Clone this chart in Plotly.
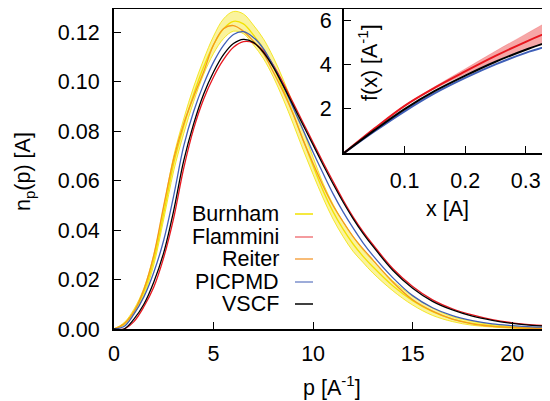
import plotly.graph_objects as go

# ---------------- data ----------------
p = [0, 0.5, 1, 1.5, 2, 2.5, 3, 3.5, 4, 4.5, 5, 5.5, 6, 6.5, 7, 7.5, 8, 8.5, 9, 9.5,
     10, 10.5, 11, 11.5, 12, 12.5, 13, 14, 15, 16, 17, 18, 19, 20, 21, 22]

burnham = [0, 0.002, 0.007, 0.015, 0.028, 0.047, 0.067, 0.082, 0.095, 0.106, 0.115, 0.1215,
           0.1245, 0.1235, 0.119, 0.1135, 0.106, 0.097, 0.087, 0.0765, 0.066, 0.056, 0.0475,
           0.0405, 0.0345, 0.0295, 0.0252, 0.0175, 0.0115, 0.0070, 0.0040, 0.0023, 0.0013,
           0.0007, 0.0004, 0.0002]
burnham_err = [0, 0.0005, 0.001, 0.0015, 0.002, 0.0025, 0.003, 0.003, 0.003, 0.003, 0.0035,
               0.004, 0.004, 0.004, 0.004, 0.004, 0.004, 0.004, 0.004, 0.004, 0.0035, 0.003,
               0.003, 0.003, 0.003, 0.0025, 0.0025, 0.002, 0.0018, 0.0015, 0.001, 0.0008,
               0.0005, 0.0004, 0.0002, 0.0001]
flammini = [0, 0.0, 0.003, 0.009, 0.017, 0.029, 0.045, 0.065, 0.081, 0.093, 0.102, 0.109,
            0.114, 0.1163, 0.1158, 0.1125, 0.1068, 0.0995, 0.0915, 0.0835, 0.0755, 0.0675,
            0.0598, 0.0523, 0.0455, 0.0395, 0.0342, 0.0245, 0.0172, 0.0118, 0.0082, 0.0057,
            0.0038, 0.0025, 0.0017, 0.0012]
reiter = [0, 0.002, 0.007, 0.016, 0.030, 0.050, 0.069, 0.083, 0.094, 0.104, 0.115, 0.1215,
          0.1228, 0.1205, 0.1165, 0.1115, 0.104, 0.096, 0.087, 0.0765, 0.067, 0.058, 0.050,
          0.0435, 0.0375, 0.0325, 0.028, 0.019, 0.0118, 0.0072, 0.0040, 0.0021, 0.0011,
          0.0006, 0.0003, 0.0002]
picpmd = [0, 0.001, 0.006, 0.013, 0.023, 0.036, 0.054, 0.074, 0.088, 0.099, 0.108, 0.1148,
          0.1192, 0.1203, 0.118, 0.1135, 0.1065, 0.0985, 0.0895, 0.0805, 0.0715, 0.063,
          0.0548, 0.0475, 0.041, 0.035, 0.0298, 0.0208, 0.0135, 0.0086, 0.0054, 0.0034,
          0.0021, 0.0014, 0.0009, 0.0006]
vscf = [0, 0.0, 0.004, 0.010, 0.019, 0.031, 0.048, 0.068, 0.083, 0.095, 0.104, 0.111,
        0.1155, 0.1172, 0.116, 0.112, 0.106, 0.0985, 0.0905, 0.0825, 0.0745, 0.0665, 0.0588,
        0.0515, 0.0448, 0.0388, 0.0335, 0.0238, 0.0165, 0.0112, 0.0077, 0.0052, 0.0035,
        0.0023, 0.0015, 0.0010]

# inset
x_in = [0, 0.05, 0.1, 0.15, 0.2, 0.25, 0.3, 0.34]
f_flammini = [0, 1.10, 2.13, 2.95, 3.68, 4.38, 5.02, 5.49]
f_flammini_err = [0, 0, 0.02, 0.05, 0.12, 0.22, 0.35, 0.5]
f_vscf = [0, 1.02, 1.98, 2.80, 3.49, 4.12, 4.66, 5.04]
f_picpmd = [0, 0.97, 1.88, 2.70, 3.39, 4.00, 4.52, 4.85]

main_xticks = [0, 5, 10, 15, 20]
main_yticks = [0.00, 0.02, 0.04, 0.06, 0.08, 0.10, 0.12]
inset_xticks = [0.1, 0.2, 0.3]
inset_yticks = [2, 4, 6]

names = ["Burnham", "Flammini", "Reiter", "PICPMD", "VSCF"]
colors = {"Burnham": "#f2e200", "Flammini": "#e8161e", "Reiter": "#f49a1c",
          "PICPMD": "#3f5fb8", "VSCF": "#000000"}
legend_colors = {"Burnham": "#f2e200", "Flammini": "#f07a7e", "Reiter": "#f6a64a",
                 "PICPMD": "#7c90cc", "VSCF": "#000000"}

# ---------------- layout geometry (page pixels; page body has an 8px margin) ----------------
OFF = 8
W, H = 550, 401
L, R, T, B = 114 - OFF, 550 - OFF, 9 - OFF, 329 - OFF


def px_x(px):
    return (px - OFF - L) / (R - L)


def px_y(py):
    return (B - (py - OFF)) / (B - T)


FONT = "Liberation Sans, Arial, Helvetica, sans-serif"
FS = 21.5

fig = go.Figure()

# Burnham band
up = [c + e for c, e in zip(burnham, burnham_err)]
lo = [c - e for c, e in zip(burnham, burnham_err)]
fig.add_trace(go.Scatter(x=p, y=up, mode="lines", line=dict(color="#f2e200", width=0.8, shape="spline"),
                         showlegend=False, hoverinfo="skip"))
fig.add_trace(go.Scatter(x=p, y=lo, mode="lines", line=dict(color="#f2e200", width=0.8, shape="spline"),
                         fill="tonexty", fillcolor="rgba(245,232,60,0.5)", showlegend=False,
                         hoverinfo="skip"))

series = {"Burnham": burnham, "Flammini": flammini, "Reiter": reiter,
          "PICPMD": picpmd, "VSCF": vscf}
for n in names:
    fig.add_trace(go.Scatter(x=p, y=series[n], mode="lines", name=n,
                             line=dict(color=colors[n], width=1.3, shape="spline"),
                             showlegend=False))

# inset traces
f_up = [a + e for a, e in zip(f_flammini, f_flammini_err)]
f_lo = [a - e for a, e in zip(f_flammini, f_flammini_err)]
fig.add_trace(go.Scatter(x=x_in, y=f_up, xaxis="x2", yaxis="y2", mode="lines",
                         line=dict(color="rgba(232,22,30,0.3)", width=0.5, shape="spline"),
                         showlegend=False, hoverinfo="skip"))
fig.add_trace(go.Scatter(x=x_in, y=f_lo, xaxis="x2", yaxis="y2", mode="lines",
                         line=dict(color="rgba(232,22,30,0.3)", width=0.5, shape="spline"),
                         fill="tonexty", fillcolor="rgba(235,60,60,0.45)",
                         showlegend=False, hoverinfo="skip"))
fig.add_trace(go.Scatter(x=x_in, y=f_picpmd, xaxis="x2", yaxis="y2", mode="lines",
                         line=dict(color=colors["PICPMD"], width=2, shape="spline"), showlegend=False))
fig.add_trace(go.Scatter(x=x_in, y=f_flammini, xaxis="x2", yaxis="y2", mode="lines",
                         line=dict(color=colors["Flammini"], width=2, shape="spline"), showlegend=False))
fig.add_trace(go.Scatter(x=x_in, y=f_vscf, xaxis="x2", yaxis="y2", mode="lines",
                         line=dict(color="#000000", width=2, shape="spline"), showlegend=False))

axis_common = dict(showgrid=False, zeroline=False, showline=True, linecolor="black",
                   ticks="inside", tickcolor="black", tickwidth=1, ticklen=7,
                   automargin=False,
                   tickfont=dict(family=FONT, size=FS, color="black"))

annotations = [
    dict(text="n<sub>p</sub>(p) [A]", x=px_x(24), y=px_y(172), textangle=-90),
    dict(text="p [A<sup>-1</sup>]", x=px_x(332), y=px_y(386)),
    dict(text="x [A]", x=px_x(447), y=px_y(209)),
    dict(text="f(x) [A<sup>-1</sup>]", x=px_x(368), y=px_y(63), textangle=-90),
]
annotations = [dict(a, xref="paper", yref="paper", showarrow=False,
                    font=dict(family=FONT, size=FS, color="black"),
                    xanchor="center", yanchor="middle") for a in annotations]

shapes = []
row_y = [214, 237, 259, 282, 304]
for n, ry in zip(names, row_y):
    annotations.append(dict(text=n, x=px_x(281), y=px_y(ry), xref="paper", yref="paper",
                            showarrow=False, xanchor="right", yanchor="middle",
                            font=dict(family=FONT, size=FS, color="black")))
    shapes.append(dict(type="line", xref="paper", yref="paper",
                       x0=px_x(295), x1=px_x(313), y0=px_y(ry), y1=px_y(ry),
                       line=dict(color=legend_colors[n], width=1.5)))

fig.update_layout(
    width=W, height=H,
    margin=dict(l=L, r=W - R, t=T, b=H - B, autoexpand=False),
    paper_bgcolor="white", plot_bgcolor="rgba(0,0,0,0)",
    font=dict(family=FONT, size=FS, color="black"),
    xaxis=dict(axis_common, range=[0, 21.9], tickvals=main_xticks, linewidth=2,
               mirror=True, domain=[0, 1], ticklabelstandoff=4),
    yaxis=dict(axis_common, range=[0, 0.1295], tickvals=main_yticks, tickformat=".2f",
               linewidth=2, domain=[0, 1], ticklabelstandoff=8),
    xaxis2=dict(axis_common, range=[0, 0.34], tickvals=inset_xticks, anchor="y2",
                domain=[px_x(344), 1], linewidth=2, mirror=True, ticklabelstandoff=7),
    yaxis2=dict(axis_common, range=[0, 6.5], tickvals=inset_yticks, anchor="x2",
                domain=[px_y(153), 1], linewidth=2, ticklabelstandoff=6),
    annotations=annotations,
    shapes=shapes,
    showlegend=False,
)

fig.write_html("out.html")
